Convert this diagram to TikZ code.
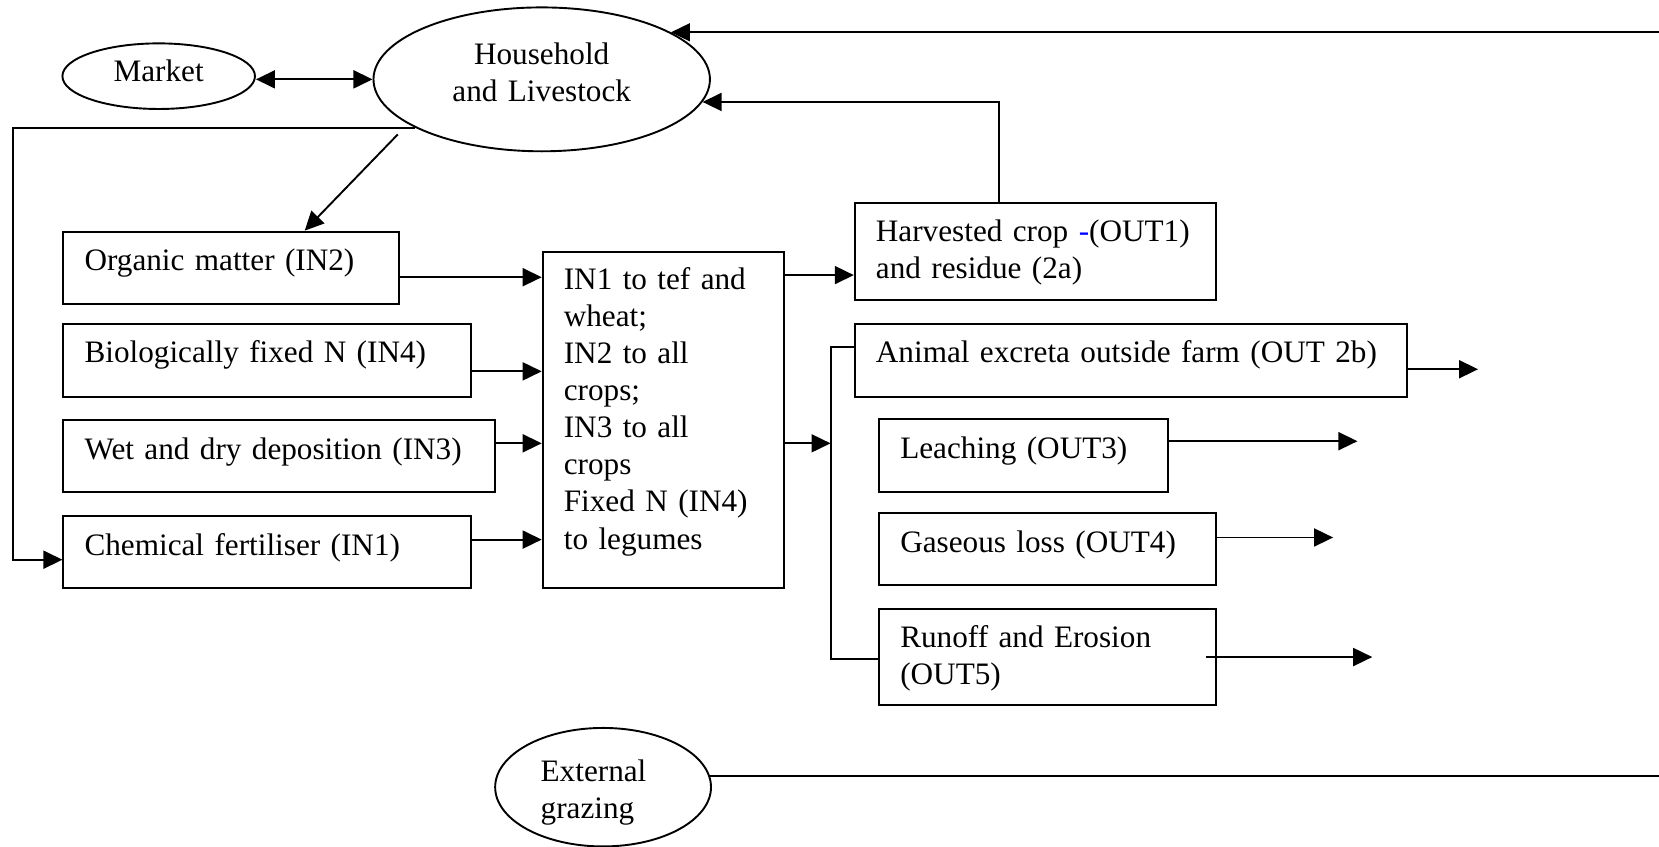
\documentclass[tikz,border=0pt]{standalone}
\usepackage{fontspec}
\setmainfont{Liberation Serif}
\usetikzlibrary{shapes.geometric,arrows.meta,calc}
\begin{document}
\begin{tikzpicture}[x=1pt,y=-1pt,
  font=\fontsize{29.5}{35}\selectfont,
  line width=1.8pt,
  arr/.style={-{Triangle[length=18pt,width=17pt]}},
  dblarr/.style={{Triangle[length=18pt,width=17pt]}-{Triangle[length=18pt,width=17pt]}},
  box/.style={draw, anchor=north west, inner xsep=20pt, inner ysep=0pt, align=left, text height=37pt},
  oval/.style={draw, ellipse, inner sep=0pt}]
\useasboundingbox (0,0) rectangle (1568,800);

% ovals
\node[oval, minimum width=182pt, minimum height=62pt, text depth=10pt] (market) at (150,72) {Market};
\node[oval, minimum width=318pt, minimum height=136pt, align=center, text width=196pt, text height=21pt, text depth=49pt] (hh) at (512,75) {Household\\and Livestock};
\node[oval, minimum width=204pt, minimum height=112pt, align=left, text width=118pt, text height=31pt, text depth=42pt] (ext) at (570,744) {External\\grazing};

% input boxes
\node[box, text width=277pt, text depth=31pt] (org) at (59,218) {Organic matter (IN2)};
\node[box, text width=345pt, text depth=32pt] (bio) at (59,305) {Biologically fixed N (IN4)};
\node[box, text width=368pt, text depth=31pt] (wet) at (59,396) {Wet and dry deposition (IN3)};
\node[box, text width=345pt, text depth=31pt] (chem) at (59,487) {Chemical fertiliser (IN1)};

% central box
\node[box, text width=188pt, text height=36pt, text depth=282pt] (mid) at (512,237)
  {IN1 to tef and\\wheat;\\IN2 to all\\crops;\\IN3 to all\\crops\\Fixed N (IN4)\\to legumes};

% output boxes
\node[box, text width=301pt, text height=36pt, text depth=56pt] (harv) at (807,191)
  {\mbox{Harvested crop {\color{blue}-}(OUT1)}\\and residue (2a)};
\node[box, text width=482pt, text depth=32pt] (anim) at (807,305) {\mbox{Animal excreta outside farm (OUT 2b)}};
\node[box, text width=233pt, text depth=32pt] (leach) at (830,395) {Leaching (OUT3)};
\node[box, text width=278pt, text depth=31pt] (gas) at (830,484) {Gaseous loss (OUT4)};
\node[box, text width=278pt, text height=36pt, text depth=54pt] (run) at (830,575) {Runoff and Erosion\\(OUT5)};

% helper coordinates
\coordinate (topR) at (1568,0);
\coordinate (extR) at (1568,0);
\coordinate (lft) at (12,0);
\coordinate (dstart) at (376,127);
\coordinate (busm) at (785,419);
\coordinate (bustop) at (785,328);
\coordinate (busbot) at (785,623);
\coordinate (animout) at (1397,349);
\coordinate (leachout) at (1283,417);
\coordinate (gasout) at (1260,508);
\coordinate (runout) at (1297,621);

% connectors
\draw[dblarr] (market.east |- hh.west) -- (hh.west);
\draw[arr] (topR |- hh.20.7) -- (hh.20.7);
\draw[arr] ($(harv.north west)+(137,0)$) |- (hh.-8.7);
\draw[arr] (hh.201.5) -- (lft |- hh.201.5) -- (lft |- 0,529) -- (chem.west |- 0,529);
\draw[arr] (dstart) -- ($(org.north west)+(229,0)$);

\draw[arr] (org.east |- 0,262) -- (mid.west |- 0,262);
\draw[arr] (bio.east |- 0,351) -- (mid.west |- 0,351);
\draw[arr] (wet.east |- 0,419) -- (mid.west |- 0,419);
\draw[arr] (chem.east |- 0,510) -- (mid.west |- 0,510);

\draw[arr] (mid.east |- 0,260) -- (harv.west |- 0,260);
\draw[arr] (mid.east |- 0,419) -- (busm);
\draw (anim.west |- bustop) -- (bustop) -- (busbot) -- (run.west |- busbot);

\draw[arr] (anim.east |- animout) -- (animout);
\draw[arr] (leach.east |- leachout) -- (leachout);
\draw[arr] (gas.east |- gasout) -- (gasout);
\draw[arr] ($(run.east |- runout)+(-10,0)$) -- (runout);

\draw (ext.6.3) -- (extR |- ext.6.3);
\end{tikzpicture}
\end{document}
